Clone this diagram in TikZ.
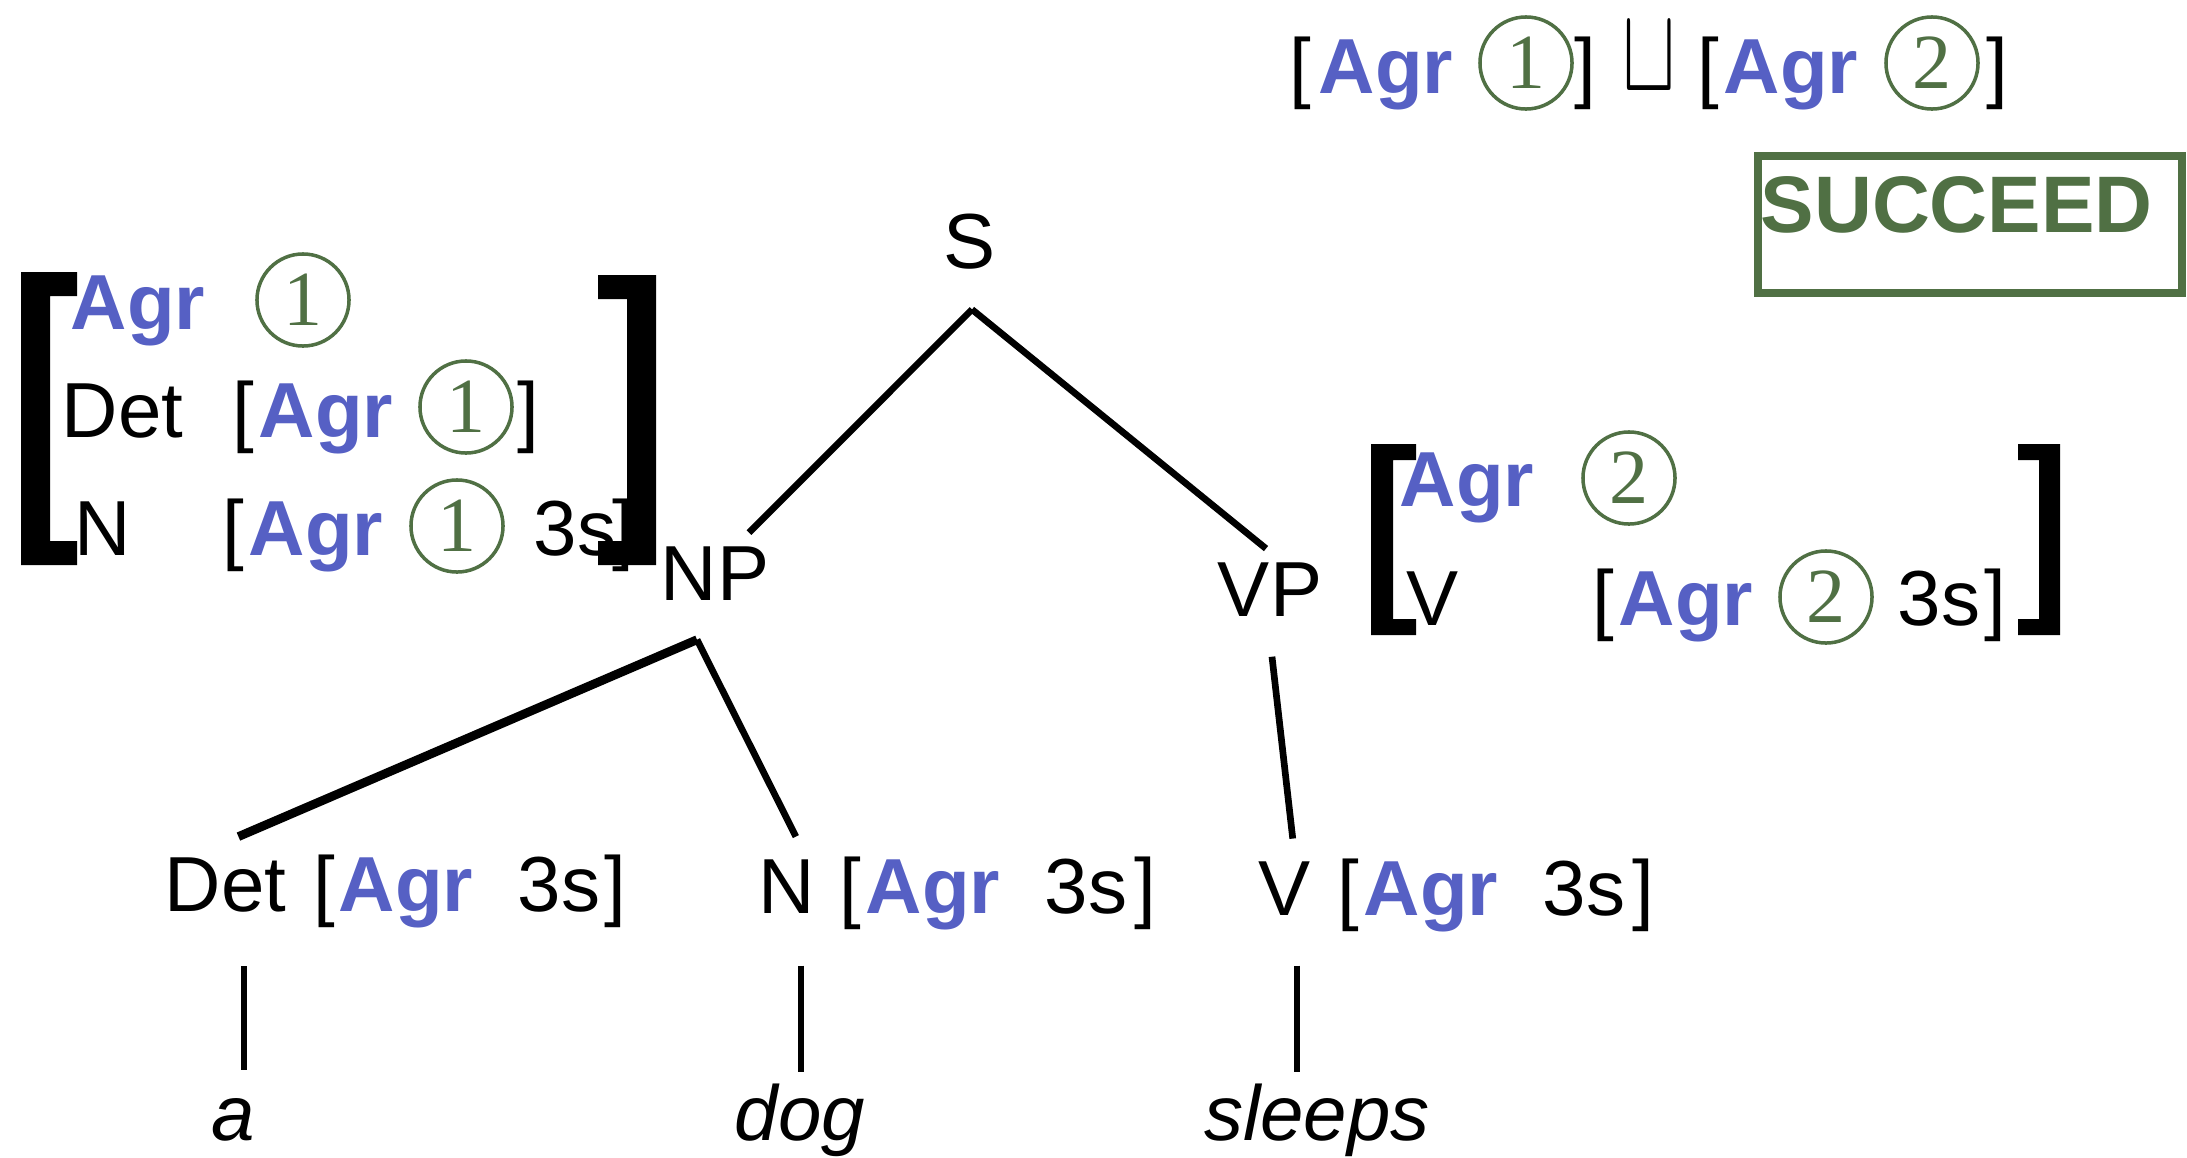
\documentclass[tikz,border=0pt]{standalone}
\usepackage{fontspec}
\setmainfont{Liberation Sans}
\newfontfamily\tagfont{Liberation Serif}
\usepackage{graphicx}
\usetikzlibrary{positioning, calc}
\definecolor{agrblue}{RGB}{86,96,196}
\definecolor{taggreen}{RGB}{80,112,68}
\newcommand{\agr}{\textbf{\textcolor{agrblue}{Agr}}}

\begin{document}
\begin{tikzpicture}[
            x=0.01cm, y=-0.01cm,
            font=\fontsize{22.2}{26}\selectfont,
            txt/.style={anchor=base west, inner sep=0pt},
            lbl/.style={anchor=base, inner sep=0pt},
            word/.style={anchor=base, inner sep=0pt, font=\fontsize{22.2}{26}\selectfont\itshape},
            tag/.style={circle, draw=taggreen, line width=1pt, minimum size=0.92cm, inner sep=0pt, text=taggreen, font=\fontsize{22.2}{26}\selectfont\tagfont},
            branch/.style={line width=1.9pt},
            bigbracket/.style={fill=black},
        ]
            \useasboundingbox (0,0) rectangle (2187,1157);

            % Draw the unification on top
            \node[txt] (uni-lb1) at (1289,93) {[};
            \node[txt] (uni-agr1) at (1318,93) {\agr};
            \node[tag] (uni-tag1) at (1526,63) {1};
            \node[txt] (uni-rb1) at (1574,93) {]};
            \node[txt] (uni-join) at (1622,90) {\scalebox{1.1}[1.65]{$\sqcup$}};
            \node[txt] (uni-lb2) at (1697,93) {[};
            \node[txt] (uni-agr2) at (1723,93) {\agr};
            \node[tag] (uni-tag2) at (1932,63) {2};
            \node[txt] (uni-rb2) at (1986,93) {]};

            % Draw the result box
            \node[txt, text=taggreen, font=\fontsize{22.8}{26}\selectfont\bfseries] (succeed) at (1760,232) {SUCCEED};
            \draw[taggreen, line width=0.08cm] (1758,156) rectangle (2182,293);

            % Draw the feature structure of NP
            \node[txt] (np-agr) at (70,329) {\agr};
            \node[tag] (np-tag) at (303,300) {1};
            \node[txt] (np-det) at (61,437) {Det};
            \node[txt] (np-det-lb) at (232,437) {[};
            \node[txt] (np-det-agr) at (258,437) {\agr};
            \node[tag] (np-det-tag) at (466,407) {1};
            \node[txt] (np-det-rb) at (517,437) {]};
            \node[txt] (np-n) at (74,555) {N};
            \node[txt] (np-n-lb) at (222,555) {[};
            \node[txt] (np-n-agr) at (248,555) {\agr};
            \node[tag] (np-n-tag) at (457,526) {1};
            \node[txt] (np-n-val) at (533,555) {3s};
            \node[txt] (np-n-rb) at (612,555) {]};
            \fill[bigbracket] (21,272) -- (77,272) -- (77,296) -- (50,296) -- (50,541) -- (77,541) -- (77,565) -- (21,565) -- cycle;
            \fill[bigbracket] (656,275) -- (598,275) -- (598,299) -- (627,299) -- (627,541) -- (598,541) -- (598,565) -- (656,565) -- cycle;

            % Draw the feature structure of VP
            \node[txt] (vp-agr) at (1399,506) {\agr};
            \node[tag] (vp-tag) at (1629,478) {2};
            \node[txt] (vp-v) at (1406,625) {V};
            \node[txt] (vp-v-lb) at (1592,625) {[};
            \node[txt] (vp-v-agr) at (1618,625) {\agr};
            \node[tag] (vp-v-tag) at (1826,597) {2};
            \node[txt] (vp-v-val) at (1897,625) {3s};
            \node[txt] (vp-v-rb) at (1984,625) {]};
            \fill[bigbracket] (1371,444) -- (1416,444) -- (1416,460) -- (1393,460) -- (1393,619) -- (1416,619) -- (1416,635) -- (1371,635) -- cycle;
            \fill[bigbracket] (2060,444) -- (2018,444) -- (2018,460) -- (2039,460) -- (2039,619) -- (2018,619) -- (2018,635) -- (2060,635) -- cycle;

            % Draw the tree nodes
            \node[lbl] (S) at (970,268) {S};
            \node[lbl] (NP) at (715,600) {NP};
            \node[lbl] (VP) at (1270,616) {VP};

            % Draw the preterminals with their features
            \foreach \name / \cat / \x / \lb / \ag / \val / \rb / \y in {Det/Det/164/313/338/517/604/911, N/N/758/839/865/1044/1134/913, V/V/1258/1337/1363/1542/1632/915} {
                \node[txt] (\name) at (\x,\y) {\cat};
                \node[txt] (\name-lb) at (\lb,\y) {[};
                \node[txt] (\name-agr) at (\ag,\y) {\agr};
                \node[txt] (\name-val) at (\val,\y) {3s};
                \node[txt] (\name-rb) at (\rb,\y) {]};
            }

            % Draw the words
            \node[word] (a) at (233,1140) {a};
            \node[word] (dog) at (800,1140) {dog};
            \node[word] (sleeps) at (1317,1140) {sleeps};

            % Connect the tree nodes
            \draw[branch] ($(S.south)+(2,40)$) -- ($(NP.north)+(34,-13)$);
            \draw[branch] ($(S.south)+(2,40)$) -- ($(VP.north)+(-4,-13)$);
            \draw[branch, line width=2.5pt] ($(NP.south)+(-18,39)$) -- ($(Det.north)+(13,-20)$);
            \draw[branch] ($(NP.south)+(-18,39)$) -- ($(N.north)+(9,-22)$);
            \draw[branch] ($(VP.south)+(2,40)$) -- ($(V.north)+(8,-22)$);

            \draw[branch] ($(a.north |- Det.south)+(11,54)$) -- ($(a.north)+(11,-27)$);
            \draw[branch] ($(dog.north |- N.south)+(1,52)$) -- ($(dog.north)+(1,-11)$);
            \draw[branch] ($(sleeps.north |- V.south)+(-20,50)$) -- ($(sleeps.north)+(-20,-11)$);
        \end{tikzpicture}
\end{document}
